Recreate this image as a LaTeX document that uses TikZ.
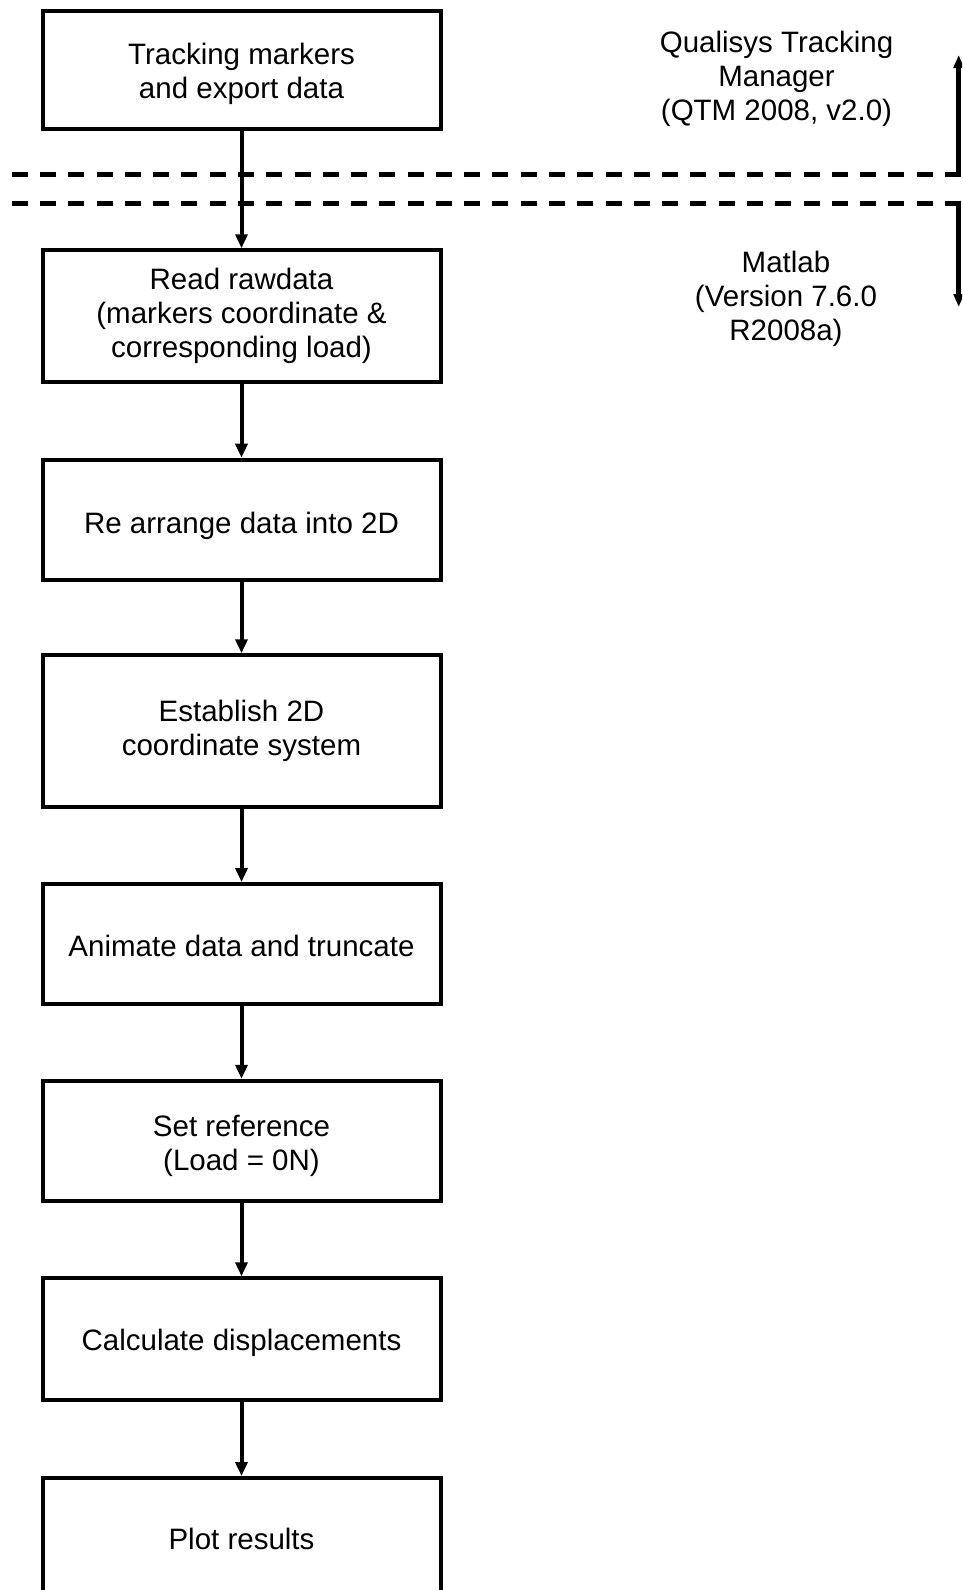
\documentclass[tikz,border=0pt]{standalone}
\usepackage{fontspec}
\setmainfont{Liberation Sans}
\usetikzlibrary{arrows.meta}
\newcommand{\lift}[1]{\rule{0pt}{#1}}
\begin{document}
\begin{tikzpicture}[x=1pt,y=-1pt,
  stepbox/.style={draw=black, line width=4pt, minimum width=398pt, inner sep=0pt, align=center, font=\fontsize{29.5}{34}\selectfont},
  flow/.style={line width=4pt, -{Triangle[length=14pt,width=12pt]}},
  side/.style={line width=5pt, -{Triangle[length=13pt,width=10pt]}},
  sepline/.style={line width=5pt, dash pattern=on 16pt off 12.28pt},
  sidetext/.style={align=center, inner sep=0pt, font=\fontsize{29.5}{34}\selectfont}]
\clip (0,0) rectangle (962,1590);
\fill[white] (0,0) rectangle (962,1590);
% separator lines
\coordinate (d1s) at (11.7,174);
\coordinate (d1e) at (961,174);
\coordinate (d2s) at (11.7,203);
\coordinate (d2e) at (961,203);
\draw[sepline] (d1s) -- (d1e);
\draw[sepline] (d2s) -- (d2e);
% side arrows
\coordinate (u0) at (958.7,176.5);
\coordinate (u1) at (958.7,55);
\coordinate (v0) at (958.7,200.5);
\coordinate (v1) at (958.7,307);
\draw[side] (u0) -- (u1);
\draw[side] (v0) -- (v1);
% side labels
\node[sidetext] (qtm) at (776.5,79) {Qualisys Tracking\\Manager\\(QTM 2008, v2.0)};
\node[sidetext] (mat) at (786,299) {Matlab\\(Version 7.6.0\\R2008a)};
% boxes
\node[stepbox, minimum height=118.5pt] (b1) at (241.5,69.75) {\lift{29.5pt}Tracking markers\\and export data};
\node[stepbox, minimum height=131.5pt] (b2) at (241.5,316) {Read rawdata\\(markers coordinate \&\\corresponding load)};
\node[stepbox, minimum height=120pt] (b3) at (241.5,519.7) {\lift{33.5pt}Re arrange data into 2D};
\node[stepbox, minimum height=151.5pt] (b4) at (241.5,731) {Establish 2D\\coordinate system};
\node[stepbox, minimum height=120pt] (b5) at (241.5,944) {\lift{25.5pt}Animate data and truncate};
\node[stepbox, minimum height=120.5pt] (b6) at (241.5,1141) {\lift{30.5pt}Set reference\\(Load = 0N)};
\node[stepbox, minimum height=121.5pt] (b7) at (241.5,1339) {\lift{29.5pt}Calculate displacements};
\node[stepbox, minimum height=121pt] (b8) at (241.5,1538.5) {Plot results};
% connectors
\draw[flow] (b1) -- (b2);
\draw[flow] (b2) -- (b3);
\draw[flow] (b3) -- (b4);
\draw[flow] (b4) -- (b5);
\draw[flow] (b5) -- (b6);
\draw[flow] (b6) -- (b7);
\draw[flow] (b7) -- (b8);
\end{tikzpicture}
\end{document}
